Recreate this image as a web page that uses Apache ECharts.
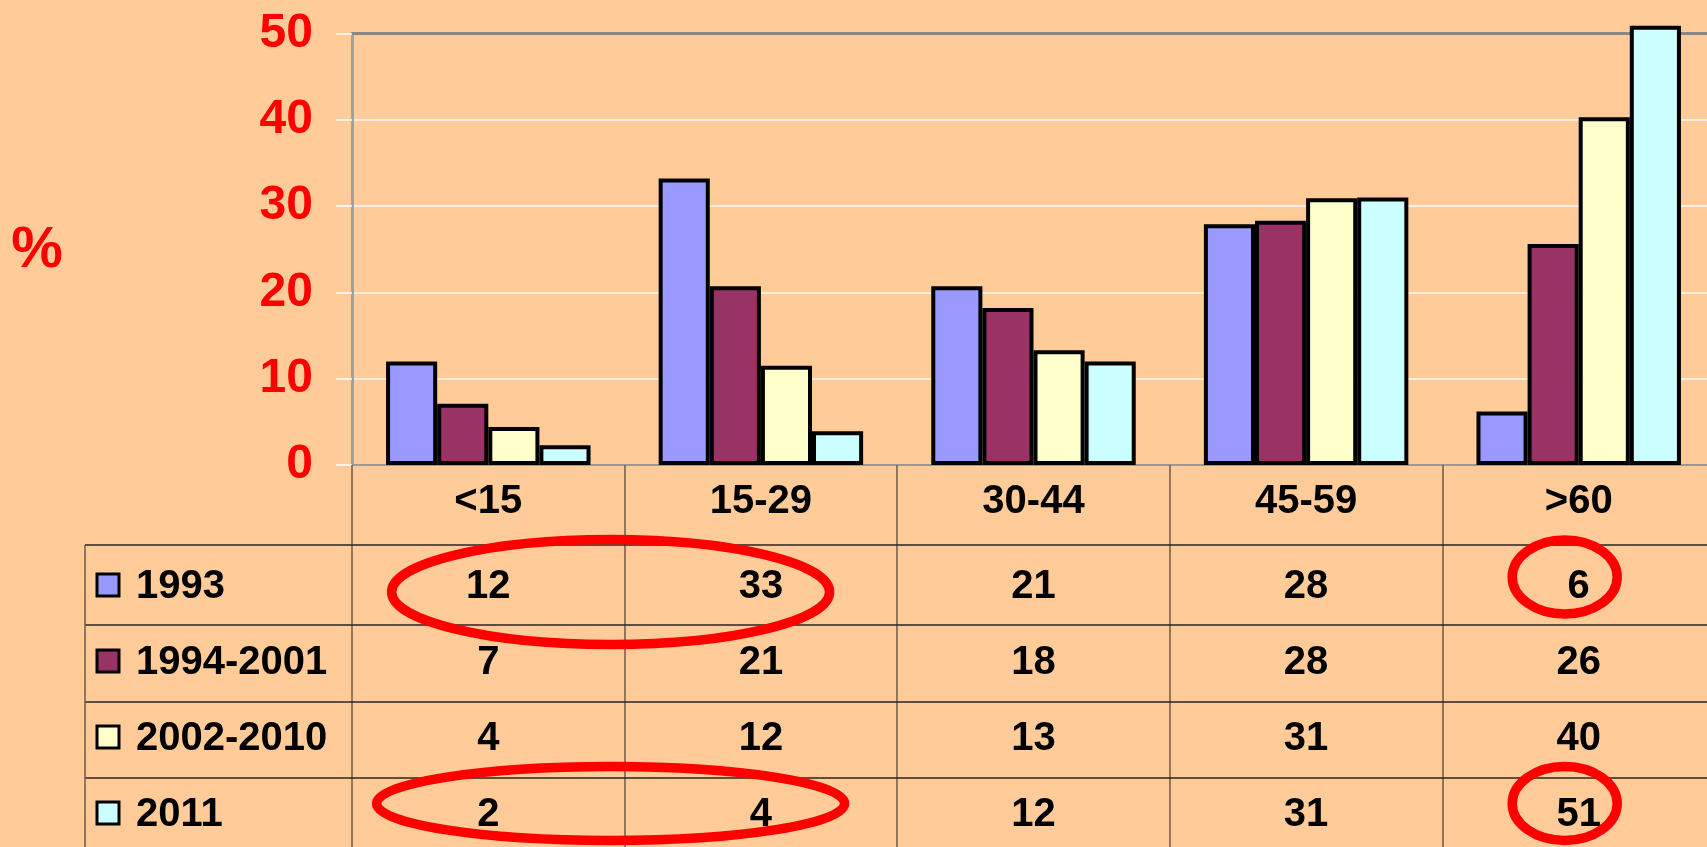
<!DOCTYPE html>
<html lang="en">
<head>
<meta charset="utf-8">
<title>Age groups by period</title>
<script src="https://cdn.jsdelivr.net/npm/echarts@6/dist/echarts.min.js"></script>
<style>
    html, body { margin: 0; padding: 0; background: #FFCC99; }
    #chart { width: 1707px; height: 847px; }
</style>
</head>
<body>
<div id="chart"></div>
<script>
    // categories and series
    const categories = ['<15', '15-29', '30-44', '45-59', '>60'];
    const seriesNames = ['1993', '1994-2001', '2002-2010', '2011'];
    const seriesColors = ['#9999FF', '#993366', '#FFFFCC', '#CCFFFF'];

    // bar heights
    const bars1993 = [12.0, 33.2, 20.7, 27.9, 6.2];
    const bars1994 = [7.1, 20.7, 18.2, 28.3, 25.6];
    const bars2002 = [4.4, 11.5, 13.3, 30.9, 40.3];
    const bars2011 = [2.3, 3.9, 12.0, 31.0, 50.9];

    // values printed in the data table
    const table1993 = [12, 33, 21, 28, 6];
    const table1994 = [7, 21, 18, 28, 26];
    const table2002 = [4, 12, 13, 31, 40];
    const table2011 = [2, 4, 12, 31, 51];

    const barData = [bars1993, bars1994, bars2002, bars2011];
    const tableData = [table1993, table1994, table2002, table2011];

    const FONT = "'Liberation Sans', Arial, sans-serif";

    const chart = echarts.init(document.getElementById('chart'));

    chart.setOption({
        backgroundColor: '#FFCC99',
        animation: false,
        grid: {
            left: 352, top: 33.5, width: 1363, height: 431.5,
            containLabel: false, outerBoundsMode: 'none'
        },
        xAxis: [{
            type: 'category',
            data: categories,
            position: 'bottom',
            axisLine: { show: true, lineStyle: { color: '#999999', width: 2 } },
            axisTick: { show: true, length: 390, lineStyle: { color: '#6e5a48', width: 1.5 } },
            axisLabel: {
                color: '#000', fontSize: 40, fontWeight: 'bold', fontFamily: FONT,
                margin: 17, lineHeight: 40, interval: 0
            },
            splitLine: { show: false }
        }, {
            type: 'category',
            data: categories,
            position: 'top',
            axisLine: { show: true, lineStyle: { color: '#888888', width: 3 } },
            axisTick: { show: false },
            axisLabel: { show: false }
        }],
        yAxis: {
            type: 'value',
            min: 0,
            max: 50,
            interval: 10,
            axisLine: { show: true, lineStyle: { color: '#A0A0A0', width: 3 } },
            axisTick: { show: true, inside: false, length: 16, lineStyle: { color: '#FFFFFF', width: 1.5 } },
            axisLabel: {
                color: '#FF0000', fontSize: 48, fontWeight: 'bold', fontFamily: FONT, margin: 39
            },
            splitLine: { show: true, lineStyle: { color: '#FFFFFF', width: 1.5, opacity: 0.9 } }
        },
        series: seriesNames.map((name, i) => ({
            name: name,
            type: 'bar',
            xAxisIndex: 0,
            data: barData[i],
            barGap: '0%',
            barCategoryGap: '25%',
            clip: false,
            itemStyle: { color: seriesColors[i], borderColor: '#000', borderWidth: 4 }
        }))
    });

    // data table under the chart
    const rowLines = [545, 625, 702, 778];
    const rowText = [585, 661, 737, 813];
    const tableLeft = 85;
    const gfx = [];

    rowLines.forEach(y => {
        gfx.push({
            type: 'line', z: 50,
            shape: { x1: tableLeft, y1: y, x2: 1707, y2: y },
            style: { stroke: '#2a2420', lineWidth: 1.5 }
        });
    });
    gfx.push({
        type: 'line', z: 50,
        shape: { x1: tableLeft, y1: 545, x2: tableLeft, y2: 847 },
        style: { stroke: '#6e5a48', lineWidth: 1.5 }
    });

    seriesNames.forEach((name, r) => {
        gfx.push({
            type: 'rect', z: 60,
            shape: { x: 97, y: rowText[r] - 11, width: 22, height: 22 },
            style: { fill: seriesColors[r], stroke: '#000', lineWidth: 3 }
        });
        gfx.push({
            type: 'text', z: 60, x: 136, y: rowText[r] + 2,
            style: {
                text: name, fill: '#000', align: 'left', verticalAlign: 'middle',
                font: 'bold 40px ' + FONT
            }
        });
        tableData[r].forEach((v, c) => {
            const px = chart.convertToPixel({ xAxisIndex: 0 }, c);
            gfx.push({
                type: 'text', z: 60, x: px, y: rowText[r] + 2,
                style: {
                    text: String(v), fill: '#000', align: 'center', verticalAlign: 'middle',
                    font: 'bold 40px ' + FONT
                }
            });
        });
    });

    // % label
    gfx.push({
        type: 'text', z: 60, x: 37, y: 251,
        style: { text: '%', fill: '#FF0000', align: 'center', verticalAlign: 'middle', font: 'bold 58px ' + FONT }
    });

    // red highlight ellipses around table cells
    const colX = c => chart.convertToPixel({ xAxisIndex: 0 }, c);
    const marks = [
        { cx: (colX(0) + colX(1)) / 2 - 14, cy: rowText[0] + 7, rx: 219, ry: 52.5 },
        { cx: (colX(0) + colX(1)) / 2 - 14, cy: rowText[3] - 9.5, rx: 234, ry: 37 },
        { cx: colX(4) - 14, cy: rowText[0] - 8, rx: 52.5, ry: 37 },
        { cx: colX(4) - 14, cy: rowText[3] - 9.5, rx: 52.5, ry: 37 }
    ];
    marks.forEach(m => {
        gfx.push({
            type: 'ellipse', z: 80,
            shape: m,
            style: { fill: 'none', stroke: '#FF0000', lineWidth: 9.5 }
        });
    });

    chart.setOption({ graphic: gfx });
</script>
</body>
</html>
